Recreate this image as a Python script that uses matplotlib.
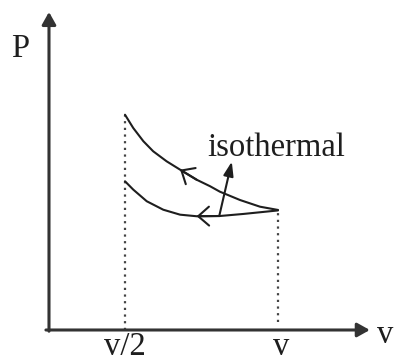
import matplotlib
matplotlib.use("Agg")
import matplotlib.pyplot as plt

plt.rcParams["font.family"] = ["Liberation Serif", "DejaVu Serif"]

# P-V diagram, volume in units of v, pressure in units of P at v
upper_v = [0.500, 0.527, 0.560, 0.592, 0.636, 0.680, 0.734, 0.778, 0.810, 0.876, 0.941, 1.000]
upper_p = [1.779, 1.669, 1.560, 1.477, 1.394, 1.325, 1.242, 1.188, 1.143, 1.074, 1.019, 0.992]

lower_v = [0.500, 0.527, 0.571, 0.625, 0.680, 0.734, 0.810, 0.887, 1.000]
lower_p = [1.229, 1.160, 1.064, 0.994, 0.953, 0.940, 0.942, 0.959, 0.988]

tick_pos = [0.5, 1.0]
tick_labels = ["v/2", "v"]

label_text = "isothermal"
pointer_from = (0.808, 0.942)
pointer_to = (0.849, 1.391)

ink = "#1e1e1e"
axis_col = "#333333"

fig = plt.figure(figsize=(3.97, 3.62), dpi=100)
ax = fig.add_axes([0, 0, 1, 1])
ax.set_xlim(0.0915, 1.3889)
ax.set_ylim(-0.2645, 2.727)
ax.axis("off")

# axes with arrow heads
axis_style = dict(arrowstyle="-|>,head_length=0.75,head_width=0.42", mutation_scale=10,
                  lw=2.2, color=axis_col, shrinkA=0, shrinkB=0)
ax.annotate("", xy=(0.2516, 2.628), xytext=(0.2516, -0.01), arrowprops=axis_style)
ax.annotate("", xy=(1.30, 0.0), xytext=(0.2416, 0.0), arrowprops=axis_style)

# dotted guides
ax.plot([tick_pos[0], tick_pos[0]], [0, upper_p[0]], color="#444444", lw=1.6,
        linestyle=(0, (1, 2.0)))
ax.plot([tick_pos[1], tick_pos[1]], [0.07, upper_p[-1]], color="#444444", lw=1.6,
        linestyle=(0, (1, 2.0)))

# the two processes
ax.plot(upper_v, upper_p, color=ink, lw=1.5, solid_capstyle="round")
ax.plot(lower_v, lower_p, color=ink, lw=1.5, solid_capstyle="round")

# direction chevrons (compression, pointing to smaller volume)
chev = dict(arrowstyle="->,head_length=0.78,head_width=0.68", mutation_scale=10,
            lw=1.5, color=ink, shrinkA=0, shrinkB=0)
ax.annotate("", xy=(upper_v[5], upper_p[5]), xytext=(upper_v[6], upper_p[6]), arrowprops=chev)
ax.annotate("", xy=(lower_v[5], lower_p[5]), xytext=(lower_v[6], lower_p[6]), arrowprops=chev)

# pointer to the isothermal
ax.annotate("", xy=pointer_to, xytext=pointer_from,
            arrowprops=dict(arrowstyle="-|>,head_length=0.85,head_width=0.3", mutation_scale=10,
                            lw=1.5, color=ink, shrinkA=0, shrinkB=0))
ax.text(0.768, 1.438, label_text, fontsize=23.5, color=ink, ha="left", va="baseline")

# labels
ax.text(0.1275, 2.259, "P", fontsize=23.5, color=ink, ha="left", va="baseline")
ax.text(1.3235, -0.107, "v", fontsize=23.5, color=ink, ha="left", va="baseline")
for pos, lab in zip(tick_pos, tick_labels):
    ax.annotate(lab, xy=(pos, -0.2), xytext=(3 * (lab == "v"), -1), textcoords="offset pixels",
                fontsize=23.5, color=ink, ha="center", va="baseline")

fig.savefig("out.png", dpi=100)
